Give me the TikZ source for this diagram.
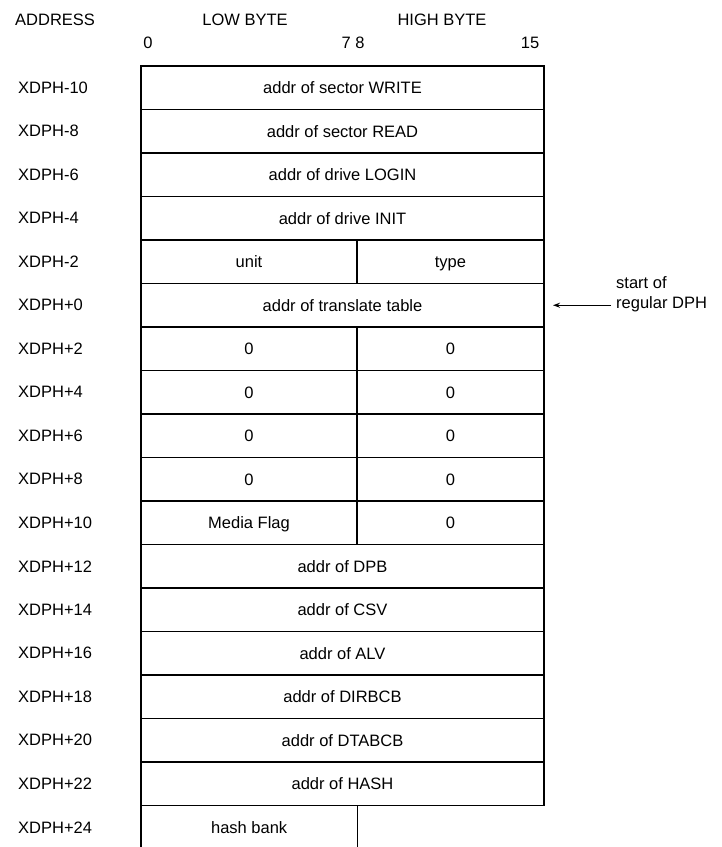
\documentclass[tikz,border=0pt]{standalone}
\usepackage{fontspec}
\setmainfont{Liberation Sans}
\usetikzlibrary{positioning, arrows.meta}

\begin{document}
\begin{tikzpicture}[
    x=1pt, y=-1pt,
    node distance=0pt,
    txt/.style={font=\fontsize{16.5}{20}\selectfont, inner sep=0pt},
    cell/.style={txt, draw, line width=1.6pt, outer sep=0pt, minimum height=43.5pt, text height=12pt, text depth=0pt},
    full/.style={cell, minimum width=403pt},
    lo/.style={cell, minimum width=216pt},
    hi/.style={cell, minimum width=187pt},
    addr/.style={txt, anchor=west},
    arr/.style={-{Stealth[length=7pt, width=5pt]}, line width=1.2pt}
  ]
  \useasboundingbox (0,0) rectangle (722,847);
  % Headings
  \node[addr] (hAddr) at (15,20) {ADDRESS};
  \node[txt] (hLow) at (245,20) {LOW BYTE};
  \node[txt] (hHigh) at (442,20) {HIGH BYTE};
  \node[txt] (b0) at (148,43) {0};
  \node[txt] (b78) at (353,43) {7 8};
  \node[txt] (b15) at (530,43) {15};
  % Extended part of the header (XDPH-10 .. XDPH-2)
  \node[full, anchor=north west] (wr) at (141,66) {addr of sector WRITE};
  \node[full, below right=of wr.south west] (rd) {addr of sector READ};
  \node[full, below right=of rd.south west] (lg) {addr of drive LOGIN};
  \node[full, below right=of lg.south west] (in) {addr of drive INIT};
  \node[lo, below right=of in.south west] (un) {unit};
  \node[hi, right=of un] (ty) {type};
  % Regular DPH
  \node[full, below right=of un.south west] (tt) {addr of translate table};
  \node[lo, below right=of tt.south west] (z2l) {0};
  \node[hi, right=of z2l] (z2h) {0};
  \node[lo, below right=of z2l.south west] (z4l) {0};
  \node[hi, right=of z4l] (z4h) {0};
  \node[lo, below right=of z4l.south west] (z6l) {0};
  \node[hi, right=of z6l] (z6h) {0};
  \node[lo, below right=of z6l.south west] (z8l) {0};
  \node[hi, right=of z8l] (z8h) {0};
  \node[lo, below right=of z8l.south west] (mf) {Media Flag};
  \node[hi, right=of mf] (mfh) {0};
  \node[full, below right=of mf.south west] (dpb) {addr of DPB};
  \node[full, below right=of dpb.south west] (csv) {addr of CSV};
  \node[full, below right=of csv.south west] (alv) {addr of ALV};
  \node[full, below right=of alv.south west] (dir) {addr of DIRBCB};
  \node[full, below right=of dir.south west] (dta) {addr of DTABCB};
  \node[full, below right=of dta.south west] (hs) {addr of HASH};
  \node[txt, minimum width=216pt, minimum height=43.5pt, text height=12pt, text depth=0pt, below right=of hs.south west] (hb) {hash bank};
  \draw[line width=1.6pt] (hb.north west) -- (hb.south west);
  \draw[line width=1.6pt] (hb.north east) -- (hb.south east);
  % Addresses
  \node[addr] (aw) at (18,87.75) {XDPH-10};
  \node[addr] (ar) at (18,131.25) {XDPH-8};
  \node[addr] (al) at (18,174.75) {XDPH-6};
  \node[addr] (ai) at (18,218.25) {XDPH-4};
  \node[addr] (au) at (18,261.75) {XDPH-2};
  \node[addr] (a0) at (18,305.25) {XDPH+0};
  \node[addr] (a2) at (18,348.75) {XDPH+2};
  \node[addr] (a4) at (18,392.25) {XDPH+4};
  \node[addr] (a6) at (18,435.75) {XDPH+6};
  \node[addr] (a8) at (18,479.25) {XDPH+8};
  \node[addr] (a10) at (18,522.75) {XDPH+10};
  \node[addr] (a12) at (18,566.25) {XDPH+12};
  \node[addr] (a14) at (18,609.75) {XDPH+14};
  \node[addr] (a16) at (18,653.25) {XDPH+16};
  \node[addr] (a18) at (18,696.75) {XDPH+18};
  \node[addr] (a20) at (18,740.25) {XDPH+20};
  \node[addr] (a22) at (18,783.75) {XDPH+22};
  \node[addr] (a24) at (18,827.25) {XDPH+24};
  % Start of regular DPH
  \node[addr, align=left] (dph) at (616,294) {start of\\regular DPH};
  \draw[arr] ([xshift=-5pt]dph.west |- tt.east) -- ([xshift=9pt]tt.east);
\end{tikzpicture}
\end{document}
